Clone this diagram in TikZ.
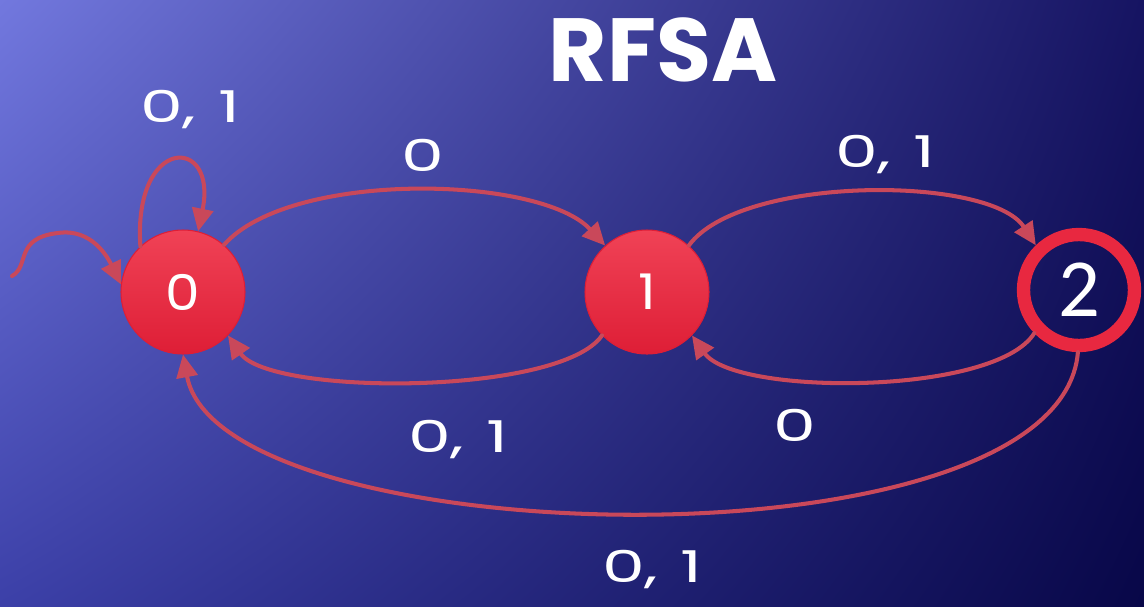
\documentclass[tikz,border=0pt]{standalone}
\usepackage{fontspec}
\setmainfont{Poppins}
\newfontfamily\lblfont[FakeStretch=1.55]{Poppins}
\newfontfamily\statefont[FakeStretch=1.12]{Poppins}
\newfontfamily\ringfont{Carlito}
\usetikzlibrary{arrows.meta,shadings}

\definecolor{bgul}{RGB}{114,120,222}
\definecolor{bgll}{RGB}{60,64,168}
\definecolor{bgur}{RGB}{22,20,98}
\definecolor{bglr}{RGB}{8,7,72}
\definecolor{edgered}{RGB}{201,72,90}
\definecolor{balltop}{RGB}{240,66,86}
\definecolor{ballmid}{RGB}{233,35,60}
\definecolor{ballbot}{RGB}{222,30,54}
\definecolor{ringred}{RGB}{232,40,64}

\tikzset{
  state/.style={circle,minimum size=2.48cm,inner sep=0pt,draw=ballbot,line width=0.6pt,
    top color=balltop,middle color=ballmid,bottom color=ballbot,text=white,
    font=\statefont\fontsize{28}{28}\selectfont},
  finalstate/.style={circle,minimum size=2.22cm,inner sep=0pt,draw=ringred,line width=7.6pt,
    text=white,font=\ringfont\fontsize{47}{47}\selectfont},
  trans/.style={draw=edgered,line width=2.3pt,line cap=round,
    -{Triangle[length=13pt,width=12pt]}},
  lbl/.style={text=white,font=\lblfont\fontsize{25}{25}\selectfont},
}

\begin{document}
\begin{tikzpicture}[x=0.02cm,y=-0.02cm]
	% backdrop
	\shade[upper left=bgul,upper right=bgur,lower left=bgll,lower right=bglr]
	(0,0) rectangle (1144,606);
	\useasboundingbox (0,0) rectangle (1144,606);

	\node[text=white,font=\bfseries\fontsize{51}{51}\selectfont] (title) at (663,50) {RFSA};

	% states
	\node[state] (q0) at (183,292) {0};
	\node[state] (q1) at (647,292) {1};
	\node[finalstate] (q2) at (1079,290) {2};

	% initial arrow and loop
	\coordinate (init) at (12,276);
	\draw[trans] (init) .. controls (30,266) and (14,238) .. (58,233)
	  .. controls (92,228) and (108,258) .. (q0.173);
	\draw[trans] (q0.133) .. controls (133,135) and (218,135) .. (q0.76);

	% transitions
	\draw[trans] (q0.49) .. controls (290,170) and (540,175) .. (q1.132);
	\draw[trans] (q1.48) .. controls (740,175) and (990,175) .. (q2.134);
	\draw[trans] (q1.224) .. controls (560,396) and (270,396) .. (q0.316);
	\draw[trans] (q2.224) .. controls (995,396) and (735,396) .. (q1.316);
	\draw[trans] (q2.269) .. controls (1060,575) and (220,555) .. (q0.270);

	% labels
	\node[lbl] (l00) at (190,110) {0,\,\,\,1};
	\node[lbl] (l01) at (423,155) {0};
	\node[lbl] (l12) at (885,155) {0,\,\,\,1};
	\node[lbl] (l10) at (458,440) {0,\,\,\,1};
	\node[lbl] (l21) at (795,425) {0};
	\node[lbl] (l20) at (652,570) {0,\,\,\,1};
\end{tikzpicture}
\end{document}
